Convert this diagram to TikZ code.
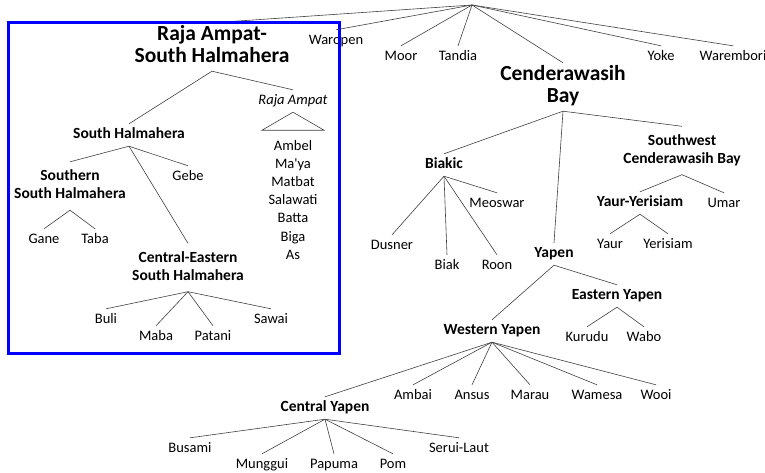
\documentclass[tikz,border=0pt]{standalone}
\usepackage{fontspec}
\setmainfont{Carlito}
\begin{document}
\begin{tikzpicture}[x=1pt,y=-1pt,
  base/.style={align=center, inner xsep=2pt},
  lf/.style={base, font=\fontsize{14.5}{17}\selectfont, text height=10pt, text depth=3.5pt, inner ysep=4.25pt},
  grp/.style={base, font=\fontsize{15.5}{18}\selectfont\bfseries, text height=11pt, text depth=4pt, inner ysep=3.5pt},
  grp2/.style={base, font=\fontsize{15.5}{18}\selectfont\bfseries, inner ysep=6pt},
  big/.style={base, font=\fontsize{21.5}{22}\selectfont\bfseries, inner ysep=2pt},
  lst/.style={base, font=\fontsize{14.5}{18.2}\selectfont, inner ysep=0pt},
  edge/.style={line width=0.6pt, black!75}
]
\useasboundingbox (0,0) rectangle (765,472);
% top level
\coordinate (root) at (472,5);
\node[big] (rash) at (212,47) {\strut Raja Ampat-\\South Halmahera\strut};
\node[lf] (waropen) at (336,41) {Waropen};
\node[lf] (moor) at (401,57) {Moor};
\node[lf] (tandia) at (458,57) {Tandia};
\node[big] (cb) at (563,87) {\strut Cenderawasih\\Bay\strut};
\node[lf] (yoke) at (661,57) {Yoke};
\node[lf] (warembori) at (733,57) {Warembori};
\foreach \c in {rash,waropen,moor,tandia,cb,yoke,warembori}
  \draw[edge] (root) -- (\c.north);
% Raja Ampat - South Halmahera
\node[lf, font=\fontsize{14.5}{17}\selectfont\itshape] (ra) at (293,101) {Raja Ampat};
\node[lst] (ralist) at (293,201) {\strut Ambel\\Ma\textquotesingle ya\\Matbat\\Salawati\\Batta\\Biga\\As\strut};
\draw[edge] (ra.south) -- ++(-31,18) -- ++(62,0) -- cycle;
\node[grp] (sh) at (129,135) {South Halmahera};
\node[grp2] (ssh) at (70,186) {\strut Southern\\South Halmahera\strut};
\node[lf] (gebe) at (188,177) {Gebe};
\node[grp2] (ces) at (188,267.5) {\strut Central-Eastern\\South Halmahera\strut};
\node[lf] (gane) at (44,240) {Gane};
\node[lf] (taba) at (95,240) {Taba};
\node[lf] (buli) at (106,320) {Buli};
\node[lf] (maba) at (156,337) {Maba};
\node[lf] (patani) at (213,337) {Patani};
\node[lf] (sawai) at (271,320) {Sawai};
\foreach \p/\c in {rash/sh,rash/ra,sh/ssh,sh/gebe,sh/ces,ssh/gane,ssh/taba,ces/buli,ces/maba,ces/patani,ces/sawai}
  \draw[edge] (\p.south) -- (\c.north);
% Cenderawasih Bay
\node[grp] (biakic) at (444,165) {Biakic};
\node[lf] (dusner) at (392,246) {Dusner};
\node[lf] (biak) at (447,266) {Biak};
\node[lf] (roon) at (497,266) {Roon};
\node[lf] (meoswar) at (497,204) {Meoswar};
\node[grp2] (swcb) at (682,150.5) {\strut Southwest\\Cenderawasih Bay\strut};
\node[grp] (yy) at (640,203) {Yaur-Yerisiam};
\node[lf] (umar) at (724,204) {Umar};
\node[lf] (yaur) at (610,245) {Yaur};
\node[lf] (yerisiam) at (668,245) {Yerisiam};
\node[grp] (yapen) at (554,254) {Yapen};
\node[grp] (ey) at (617,296) {Eastern Yapen};
\node[lf] (kurudu) at (587,338) {Kurudu};
\node[lf] (wabo) at (644,338) {Wabo};
\node[grp] (wy) at (492,331) {Western Yapen};
\node[lf] (ambai) at (413,396) {Ambai};
\node[lf] (ansus) at (472,396) {Ansus};
\node[lf] (marau) at (530,396) {Marau};
\node[lf] (wamesa) at (597,396) {Wamesa};
\node[lf] (wooi) at (656,396) {Wooi};
\node[grp] (cy) at (325,408) {Central Yapen};
\node[lf] (busami) at (190,449) {Busami};
\node[lf] (munggui) at (262,465) {Munggui};
\node[lf] (papuma) at (334,465) {Papuma};
\node[lf] (pom) at (393,465) {Pom};
\node[lf] (serui) at (459,449) {Serui-Laut};
\foreach \p/\c in {cb/biakic,cb/yapen,cb/swcb,biakic/dusner,biakic/biak,biakic/roon,biakic/meoswar,swcb/yy,swcb/umar,yy/yaur,yy/yerisiam,yapen/wy,yapen/ey,ey/kurudu,ey/wabo,wy/cy,wy/ambai,wy/ansus,wy/marau,wy/wamesa,wy/wooi,cy/busami,cy/munggui,cy/papuma,cy/pom,cy/serui}
  \draw[edge] (\p.south) -- (\c.north);
% frame
\draw[blue, line width=3pt] (8,22) rectangle (339,353);
\end{tikzpicture}
\end{document}
